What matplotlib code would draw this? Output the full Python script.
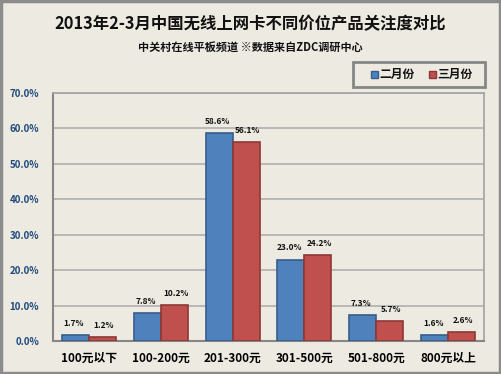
import matplotlib
matplotlib.use("Agg")
import matplotlib.pyplot as plt
from matplotlib.patches import Rectangle
import numpy as np

plt.rcParams['font.family'] = ['Noto Sans CJK SC', 'DejaVu Sans']

categories = ["100元以下", "100-200元", "201-300元", "301-500元", "501-800元", "800元以上"]
feb = [1.7, 7.8, 58.6, 23.0, 7.3, 1.6]
mar = [1.2, 10.2, 56.1, 24.2, 5.7, 2.6]
series_names = ["二月份", "三月份"]
yticks = [0, 10, 20, 30, 40, 50, 60, 70]

bg = "#EDEBE1"
fig = plt.figure(figsize=(5.01, 3.74), dpi=100, facecolor=bg)
ax = fig.add_axes([0.1058, 0.0882, 0.8602, 0.6631])
ax.set_facecolor(bg)

x = np.arange(len(categories))
w = 0.375
ax.bar(x - w/2, feb, w, color="#4F81BD", edgecolor="#385D8A", linewidth=1.2, zorder=3)
ax.bar(x + w/2, mar, w, color="#C0504D", edgecolor="#8C3836", linewidth=1.2, zorder=3)

for xi, v in zip(x - w/2, feb):
    ax.text(xi - 0.02, v + 2.0, f"{v:.1f}%", ha="center", va="bottom", fontsize=6,
            fontweight="bold", color="#111111", zorder=4)
for xi, v in zip(x + w/2, mar):
    ax.text(xi + 0.02, v + 2.0, f"{v:.1f}%", ha="center", va="bottom", fontsize=6,
            fontweight="bold", color="#111111", zorder=4)

ax.set_xlim(-0.5, len(categories) - 0.5)
ax.set_ylim(0, 70)
ax.set_yticks(yticks)
ax.set_yticklabels([f"{t:.1f}%" for t in yticks], fontsize=7, fontweight="bold", color="#1F497D")
ax.set_xticks(x)
ax.set_xticklabels(categories, fontsize=8.5, fontweight="bold", color="#000000")
ax.tick_params(axis="both", length=0, pad=10)
ax.tick_params(axis="x", pad=8)
ax.grid(axis="y", color="#B3B3B3", linewidth=1.3, zorder=0)
for s in ["left", "bottom"]:
    ax.spines[s].set_color("#868686")
    ax.spines[s].set_linewidth(1.5)
ax.spines["right"].set_color("#A6A6A6")
ax.spines["right"].set_linewidth(1.3)
ax.spines["top"].set_color("#A6A6A6")
ax.spines["top"].set_linewidth(1.3)

fig.text(0.5, 0.935, "2013年2-3月中国无线上网卡不同价位产品关注度对比", ha="center", va="center",
         fontsize=11.8, fontweight="bold", color="#111111")
fig.text(0.5, 0.873, "中关村在线平板频道 ※数据来自ZDC调研中心", ha="center", va="center",
         fontsize=8, fontweight="bold", color="#111111")

# legend box
lx0, ly0, lw, lh = 353/501, 1 - 87/374, 132/501, 25/374
fig.patches.append(Rectangle((lx0, ly0), lw, lh, transform=fig.transFigure,
                             facecolor=bg, edgecolor="#868686", linewidth=2))
for i, (name, fc, ec) in enumerate(zip(series_names, ["#4F81BD", "#C0504D"], ["#385D8A", "#8C3836"])):
    mx = (374 + i * 58) / 501
    my = 1 - 74.5 / 374
    fig.patches.append(Rectangle((mx - 3.5/501, my - 3.5/374), 7/501, 7/374, transform=fig.transFigure,
                                 facecolor=fc, edgecolor=ec, linewidth=1))
    fig.text(mx + 5/501, my, name, ha="left", va="center", fontsize=8.5, fontweight="bold", color="#111111")

# outer border
fig.patches.append(Rectangle((0.002, 0.003), 0.996, 0.994, transform=fig.transFigure,
                             facecolor="none", edgecolor="#8C8C8C", linewidth=2.5))

fig.savefig("out.png", dpi=100, facecolor=bg)
